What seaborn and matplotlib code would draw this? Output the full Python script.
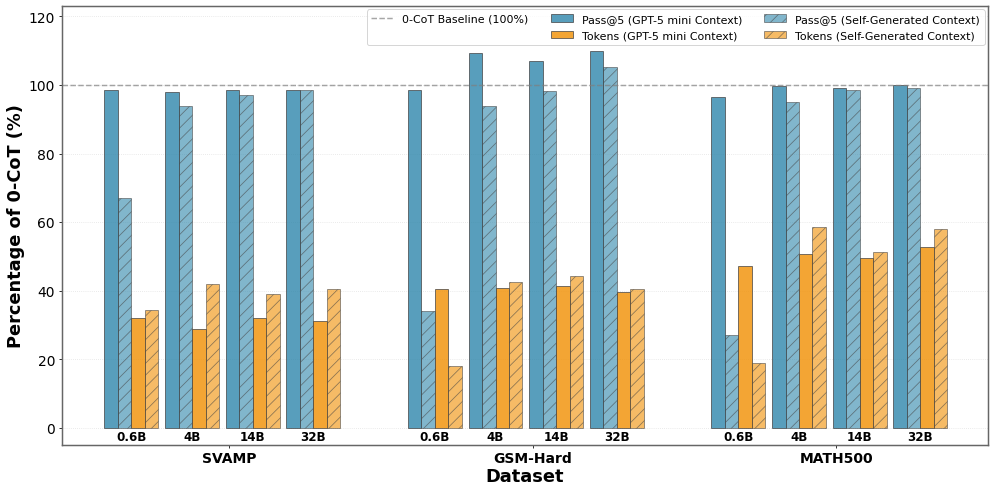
import numpy as np
import matplotlib
matplotlib.use("Agg")
import matplotlib.pyplot as plt
import seaborn as sns
from matplotlib.patches import Patch
from matplotlib.lines import Line2D

datasets = ["SVAMP", "GSM-Hard", "MATH500"]
models = ["0.6B", "4B", "14B", "32B"]

# percentage of 0-CoT, one row per dataset, one column per model
pass_gpt = [[98.5, 98.0, 98.6, 98.6],
            [98.5, 109.2, 107.1, 109.8],
            [96.6, 99.6, 99.2, 100.1]]
pass_self = [[67.0, 93.8, 97.0, 98.5],
             [34.0, 94.0, 98.2, 105.2],
             [27.1, 95.0, 98.6, 99.0]]
tok_gpt = [[32.0, 28.7, 32.0, 31.2],
           [40.6, 40.7, 41.5, 39.6],
           [47.2, 50.6, 49.5, 52.7]]
tok_self = [[34.5, 42.0, 39.1, 40.4],
            [18.0, 42.5, 44.3, 40.5],
            [18.8, 58.7, 51.2, 58.1]]

series = [
    ("Pass@5 (GPT-5 mini Context)", pass_gpt, "#2E86AB", 0.8, None),
    ("Pass@5 (Self-Generated Context)", pass_self, "#2E86AB", 0.6, "//"),
    ("Tokens (GPT-5 mini Context)", tok_gpt, "#F18F01", 0.8, None),
    ("Tokens (Self-Generated Context)", tok_self, "#F18F01", 0.6, "//"),
]

sns.set_style("ticks")
plt.rcParams["font.family"] = ["DejaVu Sans"]
plt.rcParams["text.color"] = "black"
plt.rcParams["axes.labelcolor"] = "black"
plt.rcParams["xtick.color"] = "black"
plt.rcParams["ytick.color"] = "black"
plt.rcParams["hatch.color"] = "#555555"
plt.rcParams["hatch.linewidth"] = 0.8

fig, ax = plt.subplots(figsize=(14, 6.95), dpi=71.2)
fig.subplots_adjust(left=0.0622, right=0.991, top=0.986, bottom=0.099)

group_step = 22.5
model_step = 4.5
width = 1.0

for s, (label, vals, color, alpha, hatch) in enumerate(series):
    for d in range(len(datasets)):
        xs = d * group_step + np.arange(len(models)) * model_step + s
        ax.bar(xs, vals[d], width=width, color=color, alpha=alpha,
               edgecolor="#444444", linewidth=0.9, hatch=hatch)

ax.axhline(100, color="gray", linestyle="--", linewidth=1.5, alpha=0.7)

# model labels under each sub-group
for d in range(len(datasets)):
    for m, name in enumerate(models):
        ax.text(d * group_step + m * model_step + 1.5, -2.6, name,
                ha="center", va="center", fontsize=12, fontweight="bold")

ax.set_xticks([d * group_step + 8.75 for d in range(len(datasets))])
ax.set_xticklabels(datasets, fontsize=14, fontweight="bold")
ax.tick_params(axis="x", length=3.5, pad=3)
ax.tick_params(axis="y", length=3.5, labelsize=14)
ax.set_xlim(-3.64, 65.0)
ax.set_ylim(-5, 123)
ax.set_yticks([0, 20, 40, 60, 80, 100, 120])
ax.yaxis.grid(True, linestyle=":", alpha=0.6)
ax.set_axisbelow(True)

ax.set_xlabel("Dataset", fontsize=18, fontweight="bold", labelpad=2)
ax.set_ylabel("Percentage of 0-CoT (%)", fontsize=18, fontweight="bold")

for sp in ax.spines.values():
    sp.set_visible(True)
    sp.set_color("#666666")
    sp.set_linewidth(1.5)

patches = {}
for label, vals, color, alpha, hatch in series:
    patches[label] = Patch(facecolor=color, alpha=alpha, edgecolor="#444444",
                           linewidth=0.9, hatch=hatch)

order = ["Pass@5 (GPT-5 mini Context)", "Tokens (GPT-5 mini Context)",
         "Pass@5 (Self-Generated Context)", "Tokens (Self-Generated Context)"]
handles = [
    Line2D([0], [0], color="gray", linestyle="--", linewidth=1.5, alpha=0.7),
    Patch(facecolor="none", edgecolor="none"),
] + [patches[k] for k in order]
labels = ["0-CoT Baseline (100%)", ""] + order

ax.legend(handles, labels, loc="upper right", ncol=3, fontsize=11.2,
          frameon=True, borderaxespad=0.3, labelspacing=0.6)

plt.savefig("out.png", dpi=71.2)
